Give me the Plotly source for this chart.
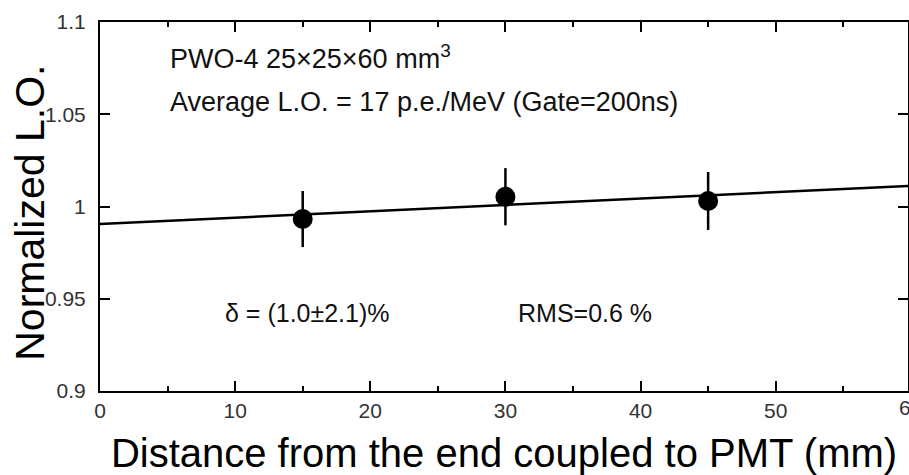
import plotly.graph_objects as go

# Data
dist_mm = [15, 30, 45]
norm_lo = [0.9932, 1.0053, 1.0030]
norm_lo_err = [0.0152, 0.0155, 0.0157]
fit_x = [0, 60]
fit_y = [0.9905, 1.0112]
x_tick_vals = [0, 10, 20, 30, 40, 50]
x_tick_text = ["0", "10", "20", "30", "40", "50"]
y_tick_vals = [0.9, 0.95, 1.0, 1.05, 1.1]
y_tick_text = ["0.9", "0.95", "1", "1.05", "1.1"]

tick_font = dict(family="Liberation Sans, Arial", size=21, color="#333")
text_font = dict(family="Liberation Sans, Arial", size=27, color="#111")

fig = go.Figure()
fig.add_trace(go.Scatter(x=fit_x, y=fit_y, mode="lines",
                         line=dict(color="black", width=2.5), showlegend=False,
                         cliponaxis=True))
fig.add_trace(go.Scatter(x=dist_mm, y=norm_lo, mode="markers",
                         marker=dict(color="black", size=20),
                         error_y=dict(type="data", array=norm_lo_err, color="black",
                                      thickness=2.5, width=0),
                         showlegend=False))

fig.update_layout(
    width=909, height=475,
    margin=dict(l=100, r=1, t=22, b=84, autoexpand=False),
    paper_bgcolor="white", plot_bgcolor="white",
    xaxis=dict(range=[0, 59.79], tickvals=x_tick_vals, ticktext=x_tick_text,
               ticks="inside", ticklen=10, tickwidth=2, tickcolor="black",
               minor=dict(dtick=5, tick0=0, ticks="inside", ticklen=5, tickwidth=2, tickcolor="black"),
               showline=True, linecolor="black", linewidth=2, mirror="allticks",
               showgrid=False, zeroline=False, tickfont=tick_font,
               ticklabelstandoff=0,
               title=dict(text="Distance from the end coupled to PMT (mm)",
                          font=dict(family="Liberation Sans, Arial", size=40, color="black"),
                          standoff=20),
               automargin=False),
    yaxis=dict(range=[0.9, 1.1], tickvals=y_tick_vals, ticktext=y_tick_text,
               ticks="inside", ticklen=10, tickwidth=2, tickcolor="black",
               showline=True, linecolor="black", linewidth=2, mirror="allticks",
               showgrid=False, zeroline=False, tickfont=tick_font,
               ticklabelstandoff=8,
               automargin=False),
)

# Y axis title placed precisely
fig.add_annotation(x=(30 - 100) / 808, xref="paper", y=0.483, yref="paper",
                   xanchor="center", yanchor="middle", textangle=-90,
                   text="Normalized L.O.", showarrow=False,
                   font=dict(family="Liberation Sans, Arial", size=41, color="black"))

# Clipped "60" tick label at the right edge
fig.add_annotation(x=60 / 59.79, xref="paper", y=0, yref="paper", yanchor="top",
                   yshift=-3, text="60", showarrow=False, font=tick_font, xanchor="center")

fig.add_annotation(x=5, y=1.081, xref="x", yref="y", xanchor="left", yanchor="middle",
                   text="PWO-4 25×25×60 mm<sup>3</sup>", showarrow=False, font=text_font)
fig.add_annotation(x=5, y=1.0566, xref="x", yref="y", xanchor="left", yanchor="middle",
                   text="Average L.O. = 17 p.e./MeV (Gate=200ns)", showarrow=False, font=text_font)
fig.add_annotation(x=9.1, y=0.9423, xref="x", yref="y", xanchor="left", yanchor="middle",
                   text="δ = (1.0±2.1)%", showarrow=False,
                   font=dict(family="Liberation Sans, Arial", size=25, color="#111"))
fig.add_annotation(x=30.8, y=0.9423, xref="x", yref="y", xanchor="left", yanchor="middle",
                   text="RMS=0.6 %", showarrow=False,
                   font=dict(family="Liberation Sans, Arial", size=25, color="#111"))

fig.write_html("out.html")
